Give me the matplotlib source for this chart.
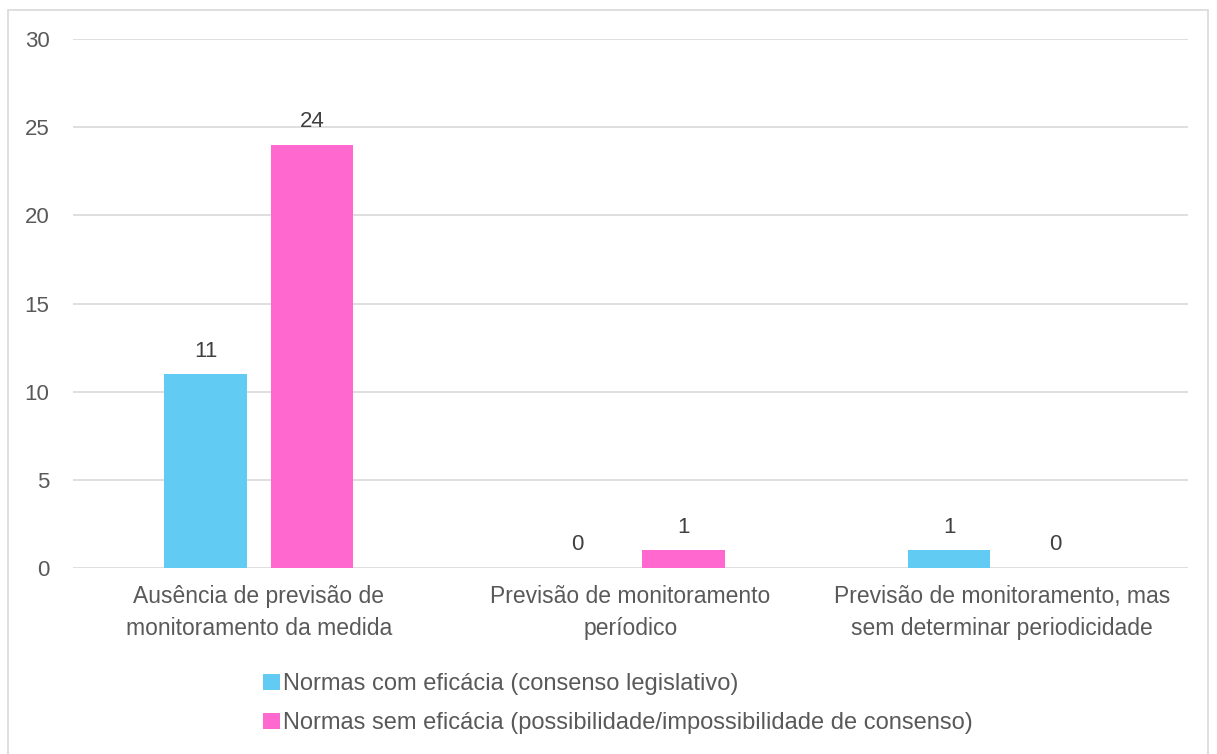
import matplotlib
matplotlib.use("Agg")
import matplotlib.pyplot as plt
import numpy as np
from matplotlib.patches import Rectangle

categories = ["Ausência de previsão de\nmonitoramento da medida",
              "Previsão de monitoramento\nperíodico",
              "Previsão de monitoramento, mas\nsem determinar periodicidade"]
series_names = ["Normas com eficácia (consenso legislativo)",
                "Normas sem eficácia (possibilidade/impossibilidade de consenso)"]
com_eficacia = [11, 0, 1]
sem_eficacia = [24, 1, 0]
colors = ["#62CBF3", "#FF69CF"]

plt.rcParams['font.family'] = ['Liberation Sans', 'DejaVu Sans']

W, H = 1217, 754
fig = plt.figure(figsize=(W / 100, H / 100), dpi=100)
ax = fig.add_axes([73 / W, 1 - 568 / H, (1188 - 73) / W, (568 - 39) / H])

x = np.arange(len(categories))
bw = 0.223
off = 0.143
b1 = ax.bar(x - off, com_eficacia, bw, color=colors[0], label=series_names[0], zorder=3)
b2 = ax.bar(x + off, sem_eficacia, bw, color=colors[1], label=series_names[1], zorder=3)

for bars, vals in ((b1, com_eficacia), (b2, sem_eficacia)):
    for r, v in zip(bars, vals):
        ax.annotate(str(v), (r.get_x() + r.get_width() / 2, v), xytext=(0, 9),
                    textcoords="offset points", ha="center", va="bottom",
                    fontsize=16, color="#404040")

ax.set_xlim(-0.5, 2.5)
ax.set_ylim(0, 30)
ax.set_yticks(range(0, 31, 5))
ax.set_xticks(x)
ax.set_xticklabels(categories, fontsize=16.5, color="#595959", linespacing=1.5)
ax.tick_params(axis='y', labelsize=16, labelcolor="#595959", length=0, pad=17)
ax.tick_params(axis='x', length=0, pad=12)
ax.grid(axis='y', color="#D9D9D9", linewidth=1.2, zorder=0)
for s in ax.spines.values():
    s.set_visible(False)

# Legend
fig.legend(handles=[b1, b2], labels=series_names, loc="upper left",
           bbox_to_anchor=(242 / W, 1 - 652 / H), frameon=False, fontsize=17,
           handlelength=0.7, handleheight=0.7, handletextpad=0.12,
           labelspacing=0.72, labelcolor="#595959")

# Outer frame
fig.patches.append(Rectangle((8 / W, -0.01), (1208 - 8) / W, (1 - 10 / H) + 0.01,
                             transform=fig.transFigure, fill=False,
                             edgecolor="#D9D9D9", linewidth=1.2))

fig.savefig("out.png", dpi=100)
